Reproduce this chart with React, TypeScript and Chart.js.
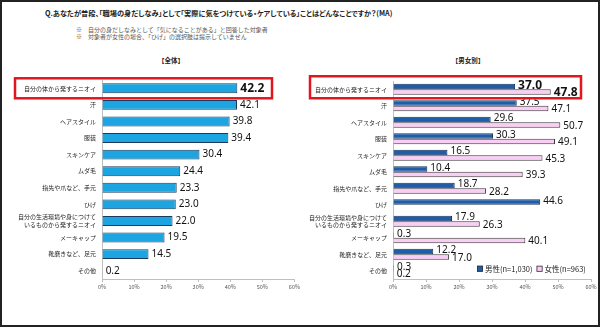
import React, { useEffect, useRef } from 'react';
import { Chart, registerables } from 'chart.js';

Chart.register(...registerables);

const titleText = 'Q.あなたが普段、「職場の身だしなみ」として「実際に気をつけている・ケアしている」ことはどんなことですか？(MA)';
const noteLines = [
  '※　自分の身だしなみとして「気になることがある」と回答した対象者',
  '※　対象者が女性の場合、「ひげ」の選択肢は提示していません',
];
const leftTitle = '【全体】';
const rightTitle = '【男女別】';

const categories: (string | string[])[] = [
  '自分の体から発するニオイ',
  '汗',
  'ヘアスタイル',
  '服装',
  'スキンケア',
  'ムダ毛',
  '指先や爪など、手元',
  'ひげ',
  ['自分の生活環境や身につけて', 'いるものから発するニオイ'],
  'メーキャップ',
  '靴磨きなど、足元',
  'その他',
];

const totalValues = [42.2, 42.1, 39.8, 39.4, 30.4, 24.4, 23.3, 23.0, 22.0, 19.5, 14.5, 0.2];
const maleValues = [37.0, 37.5, 29.6, 30.3, 16.5, 10.4, 18.7, 44.6, 17.9, 0.3, 12.2, 0.3];
const femaleValues: (number | null)[] = [47.8, 47.1, 50.7, 49.1, 45.3, 39.3, 28.2, null, 26.3, 40.1, 17.0, 0.2];

const seriesNames = ['男性(n=1,030)', '女性(n=963)'];
const xMin = 0;
const xMax = 60;
const xStep = 10;

const JP = '"Noto Sans CJK JP", "Noto Sans", sans-serif';
const NUM = '"Noto Sans", "DejaVu Sans", sans-serif';

const valueLabelPlugin = {
  id: 'valueLabels',
  afterDatasetsDraw(chart: any) {
    const ctx = chart.ctx;
    const offsets: number[] = chart.options.plugins.valueLabels?.offsets || [0, 0];
    chart.data.datasets.forEach((ds: any, di: number) => {
      const meta = chart.getDatasetMeta(di);
      meta.data.forEach((bar: any, i: number) => {
        const v = ds.data[i];
        if (v == null) return;
        const first = i === 0;
        ctx.save();
        ctx.font = first ? `bold 12px ${NUM}` : `10px ${NUM}`;
        ctx.fillStyle = '#111';
        ctx.textBaseline = 'middle';
        ctx.textAlign = 'left';
        ctx.fillText(v.toFixed(1), bar.x + 3, bar.y + (offsets[di] || 0));
        ctx.restore();
      });
    });
  },
};

const redBoxPlugin = {
  id: 'redBox',
  afterDraw(chart: any) {
    const o = chart.options.plugins.redBox;
    if (!o) return;
    const y0 = chart.scales.y.getPixelForValue(0);
    const ctx = chart.ctx;
    ctx.save();
    ctx.strokeStyle = '#E2161E';
    ctx.lineWidth = 2.5;
    ctx.strokeRect(o.left, y0 - o.up, o.right - o.left, o.up + o.down);
    ctx.restore();
  },
};

const customLegendPlugin = {
  id: 'customLegend',
  afterDraw(chart: any) {
    const o = chart.options.plugins.customLegend;
    if (!o) return;
    const ctx = chart.ctx;
    const y = chart.scales.y.getPixelForValue(chart.data.labels.length - 1) - 2;
    let x = o.x;
    ctx.save();
    ctx.font = `7.5px ${JP}`;
    ctx.textBaseline = 'middle';
    chart.data.datasets.forEach((ds: any) => {
      ctx.fillStyle = ds.backgroundColor;
      ctx.fillRect(x, y - 3, 6, 6);
      ctx.strokeStyle = '#333';
      ctx.lineWidth = 0.8;
      ctx.strokeRect(x + 0.4, y - 2.6, 5.2, 5.2);
      ctx.fillStyle = '#222';
      ctx.fillText(ds.label, x + 8, y);
      x += 8 + ctx.measureText(ds.label).width + 4;
    });
    ctx.restore();
  },
};

function makeOptions(yWidth: number, padTop: number, padRight: number, extra: any) {
  return {
    indexAxis: 'y' as const,
    animation: false as const,
    responsive: false,
    devicePixelRatio: 1,
    layout: { padding: { top: padTop, right: padRight, bottom: 3, left: 0 } },
    plugins: {
      legend: { display: false },
      tooltip: { enabled: false },
      ...extra,
    },
    scales: {
      x: {
        min: xMin,
        max: xMax,
        afterFit: (s: any) => { s.height = 20; },
        ticks: {
          stepSize: xStep,
          callback: (v: any) => v + '%',
          font: { size: 5.5, family: JP },
          color: '#555',
          padding: 2,
          maxRotation: 0,
        },
        grid: { drawOnChartArea: false, drawTicks: true, tickLength: 3, color: '#BFBFBF' },
        border: { display: true, color: '#BFBFBF', width: 1 },
      },
      y: {
        afterFit: (s: any) => { s.width = yWidth; },
        ticks: {
          font: { size: 6, family: JP, lineHeight: 1.3 },
          color: '#222',
          padding: 6,
          autoSkip: false,
        },
        grid: { drawOnChartArea: false, drawTicks: false, color: '#BFBFBF' },
        border: { display: true, color: '#BFBFBF', width: 1 },
      },
    },
  };
}

function LeftChart() {
  const ref = useRef<HTMLCanvasElement>(null);
  useEffect(() => {
    const chart = new Chart(ref.current!, {
      type: 'bar',
      data: {
        labels: categories as any,
        datasets: [
          {
            label: '全体',
            data: totalValues,
            backgroundColor: '#1CA5E1',
            borderColor: '#1E3A5C',
            borderWidth: 1,
            barPercentage: 0.6,
            categoryPercentage: 1,
          },
        ],
      },
      options: makeOptions(100, 18, 6, {
        valueLabels: { offsets: [0] },
        redBox: { left: 13, right: 270, up: 10, down: 10 },
      }) as any,
      plugins: [valueLabelPlugin, redBoxPlugin],
    });
    return () => chart.destroy();
  }, []);
  return <canvas ref={ref} width={300} height={240} style={{ position: 'absolute', left: 0, top: 60 }} />;
}

function RightChart() {
  const ref = useRef<HTMLCanvasElement>(null);
  useEffect(() => {
    const chart = new Chart(ref.current!, {
      type: 'bar',
      data: {
        labels: categories as any,
        datasets: [
          {
            label: seriesNames[0],
            data: maleValues,
            backgroundColor: '#1F5DA9',
            borderColor: '#17345A',
            borderWidth: 1,
            barPercentage: 1,
            categoryPercentage: 0.67,
          },
          {
            label: seriesNames[1],
            data: femaleValues,
            backgroundColor: '#F9CDF4',
            borderColor: '#3A3A3A',
            borderWidth: 1,
            barPercentage: 1,
            categoryPercentage: 0.67,
          },
        ],
      },
      options: makeOptions(91, 19, 11, {
        valueLabels: { offsets: [-1, 1] },
        redBox: { left: 8, right: 279, up: 13, down: 9 },
        customLegend: { x: 175 },
      }) as any,
      plugins: [valueLabelPlugin, redBoxPlugin, customLegendPlugin],
    });
    return () => chart.destroy();
  }, []);
  return <canvas ref={ref} width={300} height={240} style={{ position: 'absolute', left: 300, top: 60 }} />;
}

export default function App() {
  return (
    <div
      style={{
        position: 'absolute',
        left: 0,
        top: 0,
        width: 600,
        height: 327,
        boxSizing: 'border-box',
        border: '2px solid #222',
        background: '#fff',
        overflow: 'hidden',
        fontFamily: JP,
        color: '#222',
      }}
    >
      <div style={{ position: 'absolute', left: 43, top: 6, fontSize: 7.2, fontWeight: 'bold', whiteSpace: 'nowrap', lineHeight: '10px', fontFeatureSettings: '"palt"' }}>
        {titleText}
      </div>
      <div style={{ position: 'absolute', left: 74, top: 24, fontSize: 6, color: '#555', whiteSpace: 'nowrap', lineHeight: '7px' }}>
        {noteLines.map((t, i) => (
          <div key={i}>{t}</div>
        ))}
      </div>
      <div style={{ position: 'absolute', left: 169, top: 54, transform: 'translateX(-50%)', fontSize: 6.5, fontWeight: 'bold', whiteSpace: 'nowrap', lineHeight: '9px' }}>
        {leftTitle}
      </div>
      <div style={{ position: 'absolute', left: 466, top: 54, transform: 'translateX(-50%)', fontSize: 6.5, fontWeight: 'bold', whiteSpace: 'nowrap', lineHeight: '9px' }}>
        {rightTitle}
      </div>
      <LeftChart />
      <RightChart />
    </div>
  );
}
